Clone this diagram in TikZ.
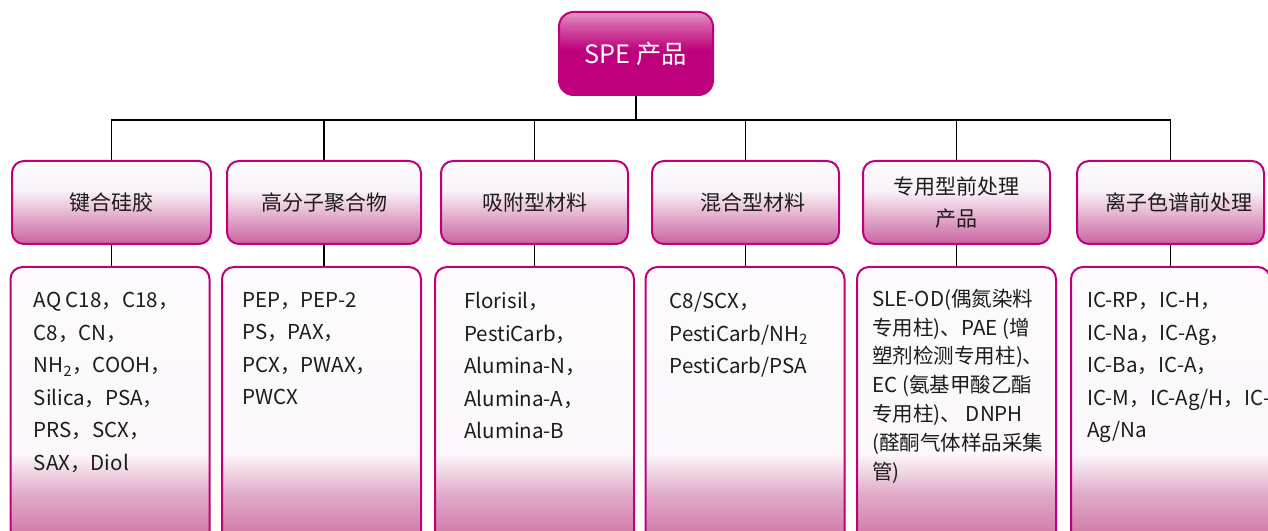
\documentclass[tikz,border=0pt]{standalone}
\usepackage{fontspec}
\setmainfont{Noto Sans CJK SC}
\usetikzlibrary{positioning}

\definecolor{spemag}{RGB}{190,0,124}
\definecolor{roottop}{RGB}{228,150,198}
\definecolor{rootmid}{RGB}{212,90,165}
\definecolor{catbot}{RGB}{200,100,160}
\definecolor{catmid}{RGB}{225,165,200}
\definecolor{catpale}{RGB}{250,242,248}
\definecolor{itembot}{RGB}{200,105,160}
\definecolor{itemlow}{RGB}{210,128,172}
\definecolor{itemmid}{RGB}{226,172,202}
\definecolor{itempale}{RGB}{252,248,251}
\definecolor{paper}{RGB}{253,251,253}
\definecolor{inkgray}{RGB}{28,28,28}

\pgfdeclareverticalshading{rootshade}{100bp}{color(0bp)=(spemag); color(25bp)=(spemag); color(52bp)=(spemag); color(67bp)=(rootmid); color(75bp)=(roottop); color(100bp)=(roottop)}
\pgfdeclareverticalshading{catshade}{100bp}{color(0bp)=(catbot); color(25bp)=(catbot); color(40bp)=(catmid); color(57bp)=(catpale); color(75bp)=(paper); color(100bp)=(paper)}
\pgfdeclareverticalshading{itemshade}{100bp}{color(0bp)=(itembot); color(25bp)=(itembot); color(28.5bp)=(itemlow); color(35bp)=(itemmid); color(42bp)=(itempale); color(75bp)=(paper); color(100bp)=(paper)}

\tikzset{
  rootbox/.style={draw=spemag, line width=1.5pt, rounded corners=11pt, shading=rootshade,
    minimum width=115.5pt, minimum height=62.25pt, text=white, font=\fontsize{19}{23}\selectfont},
  catbox/.style={draw=spemag, line width=1.5pt, rounded corners=9pt, shading=catshade,
    minimum height=62.25pt, inner sep=0pt, text=inkgray, align=center, font=\fontsize{15.75}{24}\selectfont},
  itembox/.style={draw=spemag, line width=1.5pt, rounded corners=9pt, shading=itemshade,
    minimum height=212.25pt, minimum width=149.25pt},
  itemtext/.style={anchor=north west, inner sep=0pt, align=left, text=inkgray, font=\fontsize{15.4}{24.4}\selectfont},
  link/.style={draw=black, line width=1.4pt}
}

\begin{document}
\begin{tikzpicture}[x=0.75pt,y=0.75pt,yscale=-1,xscale=1]
\useasboundingbox (0,0) rectangle (1268,531);

%Shape: Rounded Rect (top)
\node[rootbox] (root) at (636,53.5) {SPE 产品};

%Shape: Rounded Rect (categories)
\node[catbox, minimum width=149.25pt] (cat1) at (111.5,202.5) {键合硅胶};
\node[catbox, minimum width=145.5pt] (cat2) at (324,202.5) {高分子聚合物};
\node[catbox, minimum width=140.25pt] (cat3) at (534.5,202.5) {吸附型材料};
\node[catbox, minimum width=140.25pt] (cat4) at (745.5,202.5) {\hspace*{0.7em}混合型材料};
\node[catbox, minimum width=140.25pt] (cat5) at (956.5,202.5) {专用型前处理\\产品};
\node[catbox, minimum width=140.25pt] (cat6) at (1170.5,202.5) {\hspace*{0.85em}离子色谱前处理};

%Shape: Rounded Rect (product lists)
\node[itembox] (item1) at (110,408.5) {};
\node[itembox] (item2) at (321.5,408.5) {};
\node[itembox] (item3) at (534.5,408.5) {};
\node[itembox] (item4) at (745,408.5) {};
\node[itembox] (item5) at (956.5,408.5) {};
\node[itembox] (item6) at (1170.5,408.5) {};

%Text
\node[itemtext] (list1) at ([xshift=18pt,yshift=19.5pt]item1.north west)
  {AQ C18，C18，\\C8，CN，\\NH\textsubscript{2}，COOH，\\Silica，PSA，\\PRS，SCX，\\SAX，Diol};
\node[itemtext] (list2) at ([xshift=15.75pt,yshift=19.5pt]item2.north west)
  {PEP，PEP-2\\PS，PAX，\\PCX，PWAX，\\PWCX};
\node[itemtext] (list3) at ([xshift=22.5pt,yshift=19.5pt]item3.north west)
  {Florisil，\\PestiCarb，\\Alumina-N，\\Alumina-A，\\Alumina-B};
\node[itemtext] (list4) at ([xshift=18.75pt,yshift=19.5pt]item4.north west)
  {C8/SCX，\\PestiCarb/NH\textsubscript{2}\\PestiCarb/PSA};
\node[itemtext, font=\fontsize{15.4}{21.6}\selectfont] (list5) at ([xshift=12pt,yshift=17pt]item5.north west)
  {SLE-OD(偶氮染料\\专用柱)、PAE (增\\塑剂检测专用柱)、\\EC (氨基甲酸乙酯\\专用柱)、 DNPH\\(醛酮气体样品采集\\管)};
\node[itemtext] (list6) at ([xshift=12.75pt,yshift=19.5pt]item6.north west)
  {IC-RP，IC-H，\\IC-Na，IC-Ag，\\IC-Ba，IC-A，\\IC-M，IC-Ag/H，IC-\\Ag/Na};

%Straight Lines
\coordinate (bus) at (639,120);
\draw[link] (root.south) -- (root.south |- bus);
\foreach \k in {1,...,6}
  \draw[link] (root.south |- bus) -| (cat\k.north);
\foreach \k in {1,...,6}
  \draw[link] (cat\k.south) -- (cat\k.south |- item\k.north);

\end{tikzpicture}
\end{document}
